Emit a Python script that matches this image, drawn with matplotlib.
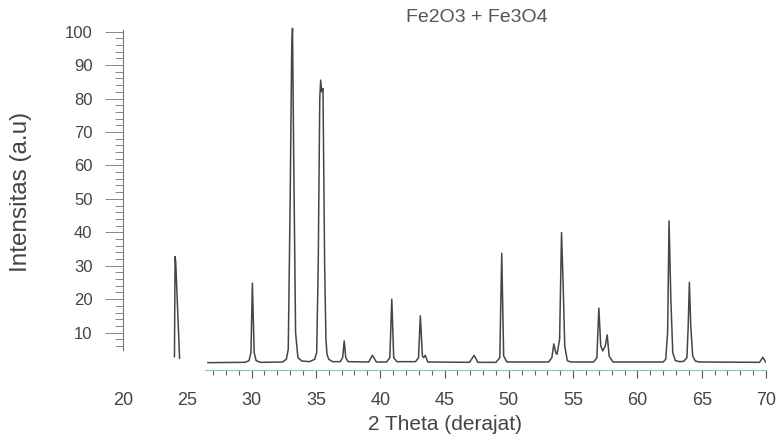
import numpy as np
import matplotlib
matplotlib.use("Agg")
import matplotlib.pyplot as plt
from matplotlib.ticker import FixedLocator

plt.rcParams['font.family'] = ['Liberation Sans', 'DejaVu Sans']

# isolated first reflection (drawn apart from the scan)
x_first = [24.0, 24.05, 24.1, 24.4]
y_first = [2.8, 32.7, 31.0, 2.3]

# main scan, vertices (2 theta, intensity)
two_theta = [26.6, 29.5, 29.8, 29.95, 30.06, 30.2, 30.35, 30.7,
             32.4, 32.7, 32.85, 33.0, 33.12, 33.18, 33.28, 33.42, 33.6, 33.9,
             34.5, 34.9, 35.06, 35.18, 35.3, 35.37, 35.45, 35.55, 35.68, 35.78,
             35.86, 36.0, 36.3,
             36.9, 37.08, 37.2, 37.32, 37.5,
             39.1, 39.4, 39.7,
             40.5, 40.75, 40.9, 41.05, 41.3,
             42.75, 42.98, 43.12, 43.28, 43.38, 43.5, 43.7,
             46.95, 47.3, 47.6,
             49.0, 49.3, 49.45, 49.6, 49.85,
             53.1, 53.35, 53.5, 53.65, 53.75, 53.95, 54.1, 54.22, 54.35, 54.55,
             54.8,
             56.6, 56.85, 57.0, 57.15, 57.3, 57.5, 57.65, 57.8, 58.1,
             62.0, 62.2, 62.35, 62.46, 62.6, 62.75, 62.95, 63.3,
             63.6, 63.85, 63.95, 64.04, 64.15, 64.3, 64.5, 64.8,
             69.5, 69.75, 70.0]
intensity = [1.0, 1.1, 1.6, 4.0, 24.8, 4.0, 1.6, 1.1,
             1.2, 2.0, 5.0, 50.0, 95.0, 101.0, 60.0, 10.0, 2.5, 1.5,
             1.3, 2.0, 4.0, 30.0, 80.0, 85.5, 82.0, 83.0, 30.0, 8.0,
             3.5, 2.0, 1.3,
             1.3, 2.5, 7.5, 2.5, 1.3,
             1.2, 3.2, 1.2,
             1.2, 2.5, 20.0, 2.5, 1.3,
             1.3, 2.5, 15.0, 3.0, 2.5, 3.2, 1.2,
             1.1, 3.2, 1.1,
             1.1, 2.5, 33.7, 3.0, 1.2,
             1.2, 2.5, 6.6, 4.0, 3.5, 8.0, 39.9, 25.0, 6.0, 1.6,
             1.2,
             1.2, 2.5, 17.3, 6.0, 4.5, 6.0, 9.3, 3.0, 1.2,
             1.2, 2.0, 10.0, 43.4, 20.0, 4.0, 1.6, 1.3,
             1.4, 2.5, 12.0, 25.0, 12.0, 3.0, 1.5, 1.2,
             1.1, 2.6, 1.1]

x_ticks = [20, 25, 30, 35, 40, 45, 50, 55, 60, 65, 70]
y_ticks = [10, 20, 30, 40, 50, 60, 70, 80, 90, 100]

fig = plt.figure(figsize=(7.81, 4.38), dpi=100)
ax = fig.add_axes([0.1575, 0.1491, 0.8233, 0.8016])

ax.plot(x_first, y_first, color='#454545', lw=1.1)
ax.plot(two_theta, intensity, color='#454545', lw=1.1)

ax.set_xlim(20, 70)
ax.set_ylim(-2, 103)

for s in ['top', 'right']:
    ax.spines[s].set_visible(False)
ax.spines['bottom'].set_position(('data', -1.2))
ax.spines['bottom'].set_bounds(26.4, 70)
ax.spines['bottom'].set_color('#8cc4bb')
ax.spines['left'].set_bounds(4.8, 100.5)
ax.spines['left'].set_color('#777777')

ax.xaxis.set_major_locator(FixedLocator(x_ticks))
ax.xaxis.set_minor_locator(FixedLocator([v for v in range(27, 71) if v % 5]))
ax.tick_params(axis='x', which='major', length=6, width=0.8, color='#555555',
               pad=10, labelsize=13, labelcolor='#444444')
ax.tick_params(axis='x', which='minor', length=3.5, width=0.8, color='#666666')
for t in ax.xaxis.get_major_ticks()[:2]:
    t.tick1line.set_visible(False)

ax.yaxis.set_major_locator(FixedLocator(y_ticks))
ax.yaxis.set_minor_locator(FixedLocator([v for v in range(6, 101, 2) if v % 10]))
ax.tick_params(axis='y', which='major', length=13, width=0.7, color='#888888',
               pad=9, labelsize=12, labelcolor='#444444')
ax.tick_params(axis='y', which='minor', length=6, width=0.7, color='#888888')

ax.set_xlabel('2 Theta (derajat)', fontsize=15, color='#444444', labelpad=4)
fig.text(21 / 781, 1 - 192 / 438, 'Intensitas (a.u)', rotation=90,
         ha='center', va='center', fontsize=17.5, color='#444444')
fig.text(477 / 781, 1 - 17 / 438, 'Fe2O3 + Fe3O4', ha='center', va='center',
         fontsize=14, color='#555555')

fig.savefig('out.png', dpi=100)
